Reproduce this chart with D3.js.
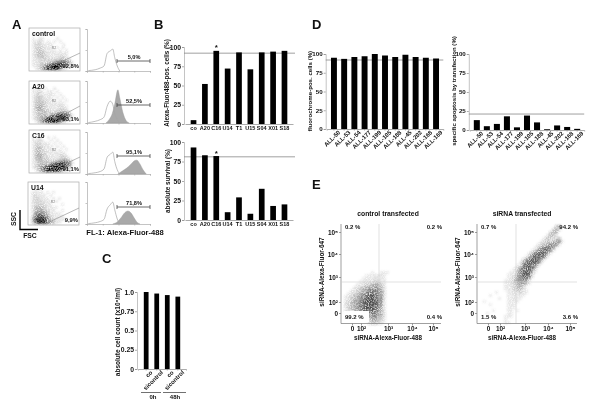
<!DOCTYPE html>
<html><head><meta charset="utf-8">
<script src="https://cdn.jsdelivr.net/npm/d3@7"></script>
<style>
html,body{margin:0;padding:0;background:#fff}
svg{display:block;filter:blur(.3px)}
text{font-family:"Liberation Sans",Arial,sans-serif;font-weight:bold;fill:#111}
</style></head><body>
<svg id="c" width="600" height="411"></svg>
<script>
// ---------- data ----------
const peptides = ["co","A20","C16","U14","T1","U15","S04","X01","S18"];
const fluorPos = [5,52,95,72,93,71,93,94,95];
const survival = [93,83,82,10,29,8,40,18,20];
const cellCats = ["co","sicontrol","co ","sicontrol "];
const cellCount = [1.0,0.98,0.96,0.94];
const patients = ["ALL-50","ALL-53","ALL-54","ALL-177","ALL-199","ALL-105","ALL-188","ALL-45","ALL-202","ALL-168","ALL-169"];
const fluoroPos = [95,93.5,96,97,100,98,96,99,96,95,94];
const apoptosis = [13,5,8,18,3.5,19,10,1,6,4,1.5];
const pctTicks = [0,25,50,75,100];
const cellTicks = [0,0.25,0.5,0.75,1];
const cellTickLabels = ["0","0.25","0.5","0.75","1.0"];

const histX = [2,13,21,27,32,37,41,44,48,52];
const outlineControl = [1,3,7,12,42,48,52,32,12,0];
const outlineA20 = [1,4,8,14,40,52,44,22,8,0];
const outlineC16 = [1,3,6,12,40,47,52,30,10,0];
const outlineU14 = [1,3,6,11,36,46,52,34,12,0];
const fillA20 = [[30,0],[35,8],[40,22],[44,45],[49,79],[52,60],[57,25],[62,6],[67,0]];
const fillC16 = [[49,0],[56,7],[63,14],[70,24],[76,32],[79,33],[84,24],[89,10],[94,0]];
const fillU14 = [[41,0],[48,5],[54,15],[60,27],[65,31],[70,26],[75,14],[79,5],[84,0]];

// density of dots (0 = none, 9 = solid), top row first
const gateControl = ["00000000000000000","00000000000000000","00000000000000000","01011000010000000","01121010101000000","01221111000100000","01222111010100000","01232111101010000","01233211111110000","01233211112210000","01122222223322000","01122223467754100","01123468999641000","00124799995210000"];
const gateA20 = ["00000000000000000","00000000000000000","01010100100000000","01121011010000000","01221111101000000","01232111010100000","01232211101010000","01333211111100000","01343211112110000","01343221112210000","01233322234442000","01233325679975100","01234689999842000","00135799995310000"];
const gateC16 = ["00000000000000000","00000000000000000","01010010100000000","01121001010000000","01221110101000000","01232111010100000","01332111101010000","01332211111100000","01343211112210000","01343221112321000","01233322345554100","01233336789975100","01235789999843000","00135799996320000"];
const gateU14 = ["00000000000000000","00000000000000000","00101000000000000","01111010100000000","01211101000000000","01221110101000000","01222111010000000","01222211000100000","01333211110000000","01344321100100000","01456431111000000","02577642111100000","03799853211110000","02689864311000000"];
const denseControl = ["000000000000000000","000000000010011100","000000001112121000","000000011112211000","000000112223321000","000001123345531000","000012345566642000","000123456777752000","001234567887762000","012345678998762000","012355789998861000","023456789999861000","023456789998851000","023456789998751000","012355788887641000","000000000677652000","000000000566541000","000000000355431000","000000000233210000"];
const denseSirna = ["0000000000000000000000000000000000","00000000000000000000000000460000","0000000000000000000000000353","000000000000000000000000355","000000000000000000000002541","0000000000000000000000243144","00000000000000000000013425571","00000000000000000000234577720","0000000000000000000136788610","000000000000000000137899720","00000000000000000268999510","0000000000000000158999820","000000000000000368999610","00000000000000168999820","0000000000000128999720","000000000000137899830","00000000000114799951","0000000000112589993","00000000001136889610","000000000112477861","000000000112356641","0000000001123453","00000000011234421","000000100011223210","0000100000112211","000000010011211","00100000001121","00001000001110","0000000000111","00000100001101","0001000000110","000000000111","00000000010","00000000011"];

const logTicks = [0,2,3,4,5];
const logLabels = ["0","10²","10³","10⁴","10⁵"];

// ---------- helpers ----------
const svg = d3.select("#c");
const defs = svg.append("defs");
const grain = defs.append("filter").attr("id","grain").attr("filterUnits","userSpaceOnUse")
  .attr("x",0).attr("y",0).attr("width",600).attr("height",411);
grain.append("feGaussianBlur").attr("in","SourceGraphic").attr("stdDeviation",0.9).attr("result","b");
grain.append("feTurbulence").attr("type","fractalNoise").attr("baseFrequency",0.95).attr("numOctaves",2).attr("seed",4).attr("result","n");
grain.append("feColorMatrix").attr("in","n").attr("type","matrix")
  .attr("values","0 0 0 0 0 0 0 0 0 0 0 0 0 0 0 2 0 0 0 -0.2").attr("result","m");
grain.append("feComposite").attr("in","b").attr("in2","m").attr("operator","in");

function text(s,x,y,size,opt={}){
  const t = svg.append("text").attr("x",x).attr("y",y).attr("font-size",size).text(s)
    .attr("text-anchor",opt.anchor||"middle");
  if(opt.rotate!==undefined) t.attr("transform",`rotate(${opt.rotate} ${x} ${y})`);
  if(opt.fill) t.style("fill",opt.fill);
  if(opt.normal) t.style("font-weight","normal");
  return t;
}
function styleAxis(g,col="#777"){
  g.selectAll("path,line").attr("stroke",col).attr("stroke-width",0.7);
  g.selectAll("text").style("font-family",'"Liberation Sans",Arial,sans-serif').style("font-weight","bold");
}
function density(rows,x0,y0,cell,maxOp,color){
  const x = d3.scaleLinear().domain([0,1]).range([x0,x0+cell]);
  const y = d3.scaleLinear().domain([0,1]).range([y0,y0+cell]);
  const op = d3.scalePow().exponent(1.3).domain([0,9]).range([0.05,maxOp]);
  const cells = rows.flatMap((r,i)=>r.split("").map((c,j)=>({i,j,v:+c}))).filter(d=>d.v>0);
  const g = svg.append("g").attr("filter","url(#grain)");
  g.selectAll("rect").data(cells).join("rect")
    .attr("x",d=>x(d.j)).attr("y",d=>y(d.i)).attr("width",cell).attr("height",cell)
    .attr("fill",color).attr("opacity",d=>op(d.v));
}
function bars(cfg){
  const x = d3.scaleBand().domain(cfg.cats).range(cfg.xr).padding(cfg.pad);
  const y = d3.scaleLinear().domain(cfg.domain).range(cfg.yr);
  const axL = svg.append("g").attr("transform",`translate(${cfg.xr[0]-1},0)`)
    .call(d3.axisLeft(y).tickValues(cfg.ticks).tickSize(2).tickPadding(1).tickFormat((d,i)=>cfg.tickLabels?cfg.tickLabels[i]:d));
  axL.selectAll("text").attr("font-size",cfg.tickFont||6.8);
  styleAxis(axL,"#888");
  axL.select(".domain").attr("stroke","#aaa");
  const axB = svg.append("g").attr("transform",`translate(0,${cfg.yr[0]})`)
    .call(d3.axisBottom(x).tickSize(cfg.rotate?1.5:0).tickPadding(2));
  axB.selectAll("text").attr("font-size",cfg.rotate?5.9:5.5);
  styleAxis(axB,"#888");
  if(cfg.rotate) axB.selectAll("text").attr("text-anchor","end").attr("dx",2).attr("dy",4).attr("transform","rotate(-45)");
  if(cfg.ref!==undefined) svg.append("line").attr("x1",cfg.xr[0]-1).attr("x2",cfg.xr[1]+(cfg.refExt||0))
    .attr("y1",y(cfg.ref)).attr("y2",y(cfg.ref)).attr("stroke","#888").attr("stroke-width",.8);
  svg.append("g").selectAll("rect").data(cfg.values).join("rect")
    .attr("x",(d,i)=>x(cfg.cats[i])).attr("width",x.bandwidth())
    .attr("y",d=>y(d)).attr("height",d=>cfg.yr[0]-y(d)).attr("fill","#000");
  if(cfg.star!==undefined) text("*",x(cfg.cats[cfg.star])+x.bandwidth()/2,y(cfg.values[cfg.star])-0.5,8);
}
function hist(top,base,outline,fill,label,brY){
  const x = d3.scaleLinear().domain([0,100]).range([87,150]);
  const y = d3.scaleLinear().domain([0,100]).range([base,top]);
  const ax = svg.append("g").attr("transform",`translate(0,${base})`)
    .call(d3.axisBottom(x).tickValues([0,25,50,75,100]).tickSize(1.5).tickFormat(""));
  styleAxis(ax,"#aaa");
  const ay = svg.append("g").attr("transform","translate(87,0)")
    .call(d3.axisLeft(y).tickValues([0,50,100]).tickSize(1.5).tickFormat(""));
  styleAxis(ay,"#aaa");
  if(fill){
    svg.append("path").datum(fill).attr("fill","#a9a9a9").attr("stroke","#999").attr("stroke-width",.4)
      .attr("d",d3.area().x(d=>x(d[0])).y0(base).y1(d=>y(d[1])).curve(d3.curveMonotoneX));
  }
  svg.append("path").datum(outline).attr("fill","none").attr("stroke","#a5a5a5").attr("stroke-width",.7)
    .attr("d",d3.line().x((d,i)=>x(histX[i])).y(d=>y(d)).curve(d3.curveMonotoneX));
  svg.append("path").attr("d",`M117,${brY-2}V${brY+2}M117,${brY}H150M150,${brY-2}V${brY+2}`)
    .attr("stroke","#444").attr("fill","none").attr("stroke-width",.8);
  text(label,134,brY-2,5.6);
}
function gatePanel(rows,x0,y0,name,pct,line,pctY){
  density(rows,x0,y0,3,1,"#000");
  svg.append("rect").attr("x",x0).attr("y",y0).attr("width",51).attr("height",43).attr("fill","none").attr("stroke","#aaa").attr("stroke-width",.7);
  svg.append("line").attr("x1",line[0]).attr("y1",line[1]).attr("x2",line[2]).attr("y2",line[3]).attr("stroke","#888").attr("stroke-width",.6);
  text(name,x0+3,y0+8,6.8,{anchor:"start"});
  text("R2",x0+25,y0+21,3.4,{fill:"#777",normal:true});
  text(pct,x0+50,pctY,5.8,{anchor:"end"});
}
function flow(xr,xpos,vx,vy,title,pcts,cx){
  const x = d3.scaleLinear().domain(logTicks).range(xpos);
  const y = d3.scaleLinear().domain(logTicks).range([313,302,277,254,232]);
  const ax = svg.append("g").attr("transform","translate(0,323.5)")
    .call(d3.axisBottom(x).tickValues(logTicks).tickSize(2).tickPadding(1).tickFormat((d,i)=>logLabels[i]));
  ax.selectAll("text").attr("font-size",6.4);
  styleAxis(ax);
  ax.select(".domain").attr("d",`M${xr[0]},0H${xr[1]}`);
  const ay = svg.append("g").attr("transform",`translate(${xr[0]},0)`)
    .call(d3.axisLeft(y).tickValues(logTicks).tickSize(2).tickPadding(1).tickFormat((d,i)=>logLabels[i]));
  ay.selectAll("text").attr("font-size",6.4);
  styleAxis(ay);
  ay.select(".domain").attr("d","M0,323.5V224");
  svg.append("line").attr("x1",vx).attr("x2",vx).attr("y1",224).attr("y2",323).attr("stroke","#ccc").attr("stroke-width",.6);
  svg.append("line").attr("x1",xr[0]).attr("x2",xr[1]).attr("y1",vy).attr("y2",vy).attr("stroke","#ccc").attr("stroke-width",.6);
  text(title,cx,216,6.8);
  text("siRNA-Alexa-Fluor-488",cx,340,6.3);
  text("siRNA-Alexa-Fluor-647",xr[0]-17,272,6.4,{rotate:-90});
  text(pcts[0],xr[0]+4,229,6,{anchor:"start"});
  text(pcts[1],xr[1]+1,229,6,{anchor:"end"});
  text(pcts[2],xr[0]+4,319,6,{anchor:"start"});
  text(pcts[3],xr[1]+1,319,6,{anchor:"end"});
}

// ---------- panel A ----------
gatePanel(gateControl,29,28,"control","92,8%",[50,67,80,53],68);
gatePanel(gateA20,29,81,"A20","93,1%",[50,122,80,106],121);
gatePanel(gateC16,29,130,"C16","91,1%",[46,173,80,157],171);
gatePanel(gateU14,28,182,"U14","9,9%",[45,224,79,208],222);

hist(29,71,outlineControl,null,"5,0%",61);
hist(81,123,outlineA20,fillA20,"52,5%",105);
hist(132,174,outlineC16,fillC16,"95,1%",156);
hist(182,224,outlineU14,fillU14,"71,8%",207);

svg.append("path").attr("d","M20,210V229.5H38").attr("fill","none").attr("stroke","#000").attr("stroke-width",1.4);
text("SSC",16,219,6.8,{rotate:-90});
text("FSC",30,238,6.8);
text("FL-1: Alexa-Fluor-488",125,235,7.6);

// ---------- panel B ----------
bars({cats:peptides,values:fluorPos,xr:[185,293],pad:.5,domain:[0,100],yr:[124,47],ticks:pctTicks,ref:92,refExt:2,star:2});
bars({cats:peptides,values:survival,xr:[185,293],pad:.5,domain:[0,100],yr:[220,142],ticks:pctTicks,ref:81,refExt:2,star:2});
text("Alexa-Fluor488-pos. cells (%)",169,83,6.3,{rotate:-90});
text("absolute survival (%)",170,181,6.4,{rotate:-90});

// ---------- panel C ----------
bars({cats:cellCats,values:cellCount,xr:[138,186],pad:.55,domain:[0,1],yr:[369,292],ticks:cellTicks,tickLabels:cellTickLabels,rotate:true});
text("absolute cell count (x10⁶/ml)",120,332,6.5,{rotate:-90});
svg.append("path").attr("d","M141,392.5H161M163,392.5H186").attr("stroke","#333").attr("stroke-width",.7);
text("0h",153,399,6);
text("48h",175,399,6);

// ---------- panel D ----------
bars({cats:patients,values:fluoroPos,xr:[326.7,443.3],pad:.42,domain:[0,100],yr:[129,54],ticks:pctTicks,tickFont:6.2,ref:92,rotate:true});
bars({cats:patients,values:apoptosis,xr:[469.8,584.2],pad:.4,domain:[0,100],yr:[130,54],ticks:pctTicks,tickFont:6.2,ref:21,rotate:true});
text("fluorochrome-pos. cells (%)",312,91,6.1,{rotate:-90});
text("specific apoptosis by transfection (%)",456,91,6.1,{rotate:-90});

// ---------- panel E ----------
density(denseControl,341,268,3,.8,"#222");
svg.append("rect").attr("x",344).attr("y",311).attr("width",25).attr("height",11).attr("fill","#fff");
flow([341,441],[352,361,388,412,433],379,282,"control transfected",["0.2 %","0.2 %","99.2 %","0.4 %"],388);
density(denseSirna,477,222,3,.75,"#222");
flow([477,577],[488,500,525,548,570],516,282,"siRNA transfected",["0.7 %","94.2 %","1.5 %","3.6 %"],522);

// ---------- panel letters ----------
[["A",12,29],["B",154,29],["D",312,29],["C",102,263],["E",312,189]].forEach(d=>text(d[0],d[1],d[2],13,{anchor:"start"}));
</script>
</body></html>
